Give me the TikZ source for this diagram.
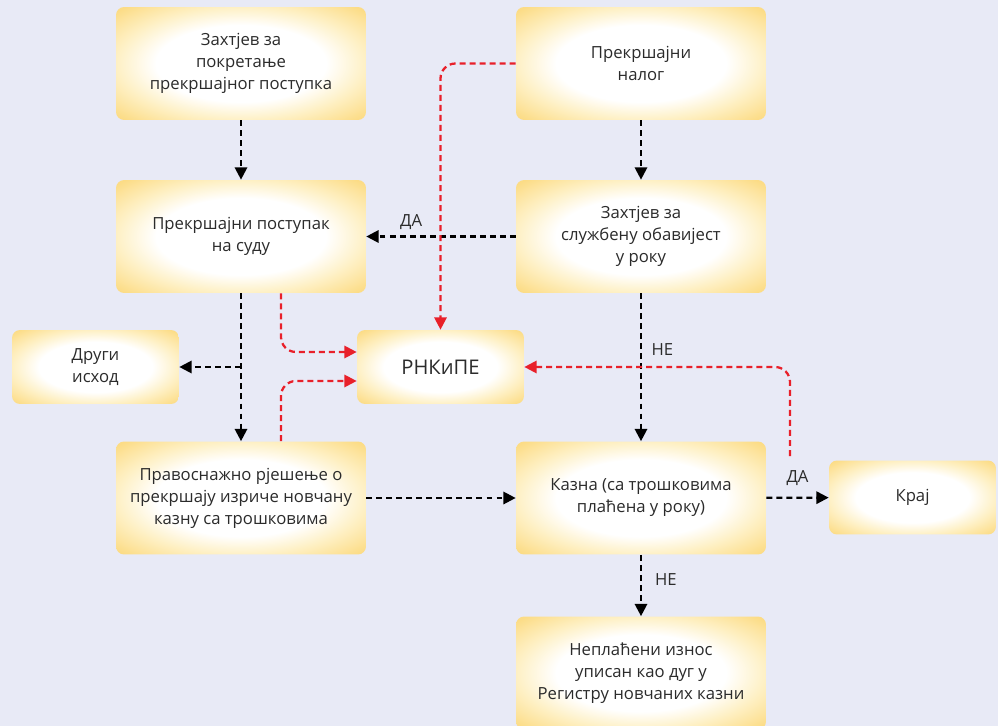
\documentclass[tikz,border=0pt]{standalone}
\usepackage{fontspec}
\setmainfont{Open Sans}
\usepackage{tikz}
\usetikzlibrary{arrows.meta}
\definecolor{bgblue}{HTML}{E8EAF6}
\definecolor{boxyellow}{HTML}{FCDC86}
\definecolor{paleyellow}{HTML}{FEF0C4}
\definecolor{dashred}{HTML}{E8202A}
\definecolor{txtgray}{HTML}{2B2B2B}
\pgfdeclareradialshading{boxglow}{\pgfpoint{0bp}{0bp}}{color(0bp)=(white); color(17bp)=(white); color(25bp)=(paleyellow); color(34bp)=(boxyellow); color(50bp)=(boxyellow)}
\tikzstyle{box} = [rectangle, rounded corners=0.16cm, minimum width=5cm, minimum height=2.26cm, text centered, align=center, shading=boxglow, text=txtgray, font=\fontsize{9.5}{12.5}\selectfont]
\tikzstyle{smallbox} = [box, minimum width=3.34cm, minimum height=1.48cm]
\tikzstyle{arrow} = [line width=1.3pt, dash pattern=on 3.4pt off 2.3pt, -{Triangle[length=7pt,width=7pt]}]
\tikzstyle{redarrow} = [arrow, dashred, rounded corners=0.3cm]
\tikzstyle{lbl} = [text=txtgray, font=\fontsize{9.5}{12}\selectfont]

\begin{document}
\begin{tikzpicture}[x=0.02cm,y=-0.02cm]
\fill[bgblue] (0,0) rectangle (998,726);
\useasboundingbox (0,0) rectangle (998,726);
\node (zahtjev) [box] at (241,63.5) {Захтјев за\\покретање\\прекршајног поступка};
\node (nalog) [box] at (641,63.5) {Прекршајни\\налог};
\node (postupak) [box] at (241,236.5) {Прекршајни поступак\\на суду};
\node (obavijest) [box] at (641,236.5) {Захтјев за\\службену обавијест\\у року};
\node (drugi) [smallbox] at (95.5,367) {Други\\исход};
\node (rnkipe) [smallbox] at (440.5,367) {\fontsize{11.5}{14}\selectfont РНКиПЕ};
\node (rjesenje) [box] at (241,498) {Правоснажно рјешење о\\прекршају изриче новчану\\казну са трошковима};
\node (kazna) [box] at (641,498) {Казна (са трошковима\\плаћена у року)};
\node (kraj) [smallbox] at (912.5,497.5) {Крај};
\node (dug) [box] at (641,673) {Неплаћени износ\\уписан као дуг у\\Регистру новчаних казни};
\coordinate (krajfork) at (790,456);

\draw [arrow] (zahtjev) -- (postupak);
\draw [arrow] (nalog) -- (obavijest);
\draw [arrow] (obavijest) -- node[lbl, above, pos=0.7] {ДА} (postupak);
\draw [arrow] (postupak) -- (rjesenje);
\draw [arrow] (postupak.south |- drugi.east) -- (drugi);
\draw [arrow] (obavijest) -- node[lbl, right, pos=0.38, xshift=2pt] {НЕ} (kazna);
\draw [arrow] (rjesenje) -- (kazna);
\draw [arrow] (kazna) -- node[lbl, above, yshift=3pt] {ДА} (kraj);
\draw [arrow] (kazna) -- node[lbl, right, xshift=4pt, pos=0.4] {НЕ} (dug);

\draw [redarrow] (nalog.west) -| (rnkipe.north);
\draw [redarrow] ([xshift=0.8cm]postupak.south) |- ([yshift=0.3cm]rnkipe.west);
\draw [redarrow] ([xshift=0.8cm]rjesenje.north) |- ([yshift=-0.28cm]rnkipe.west);
\draw [redarrow] (krajfork) |- (rnkipe.east);
\end{tikzpicture}
\end{document}
